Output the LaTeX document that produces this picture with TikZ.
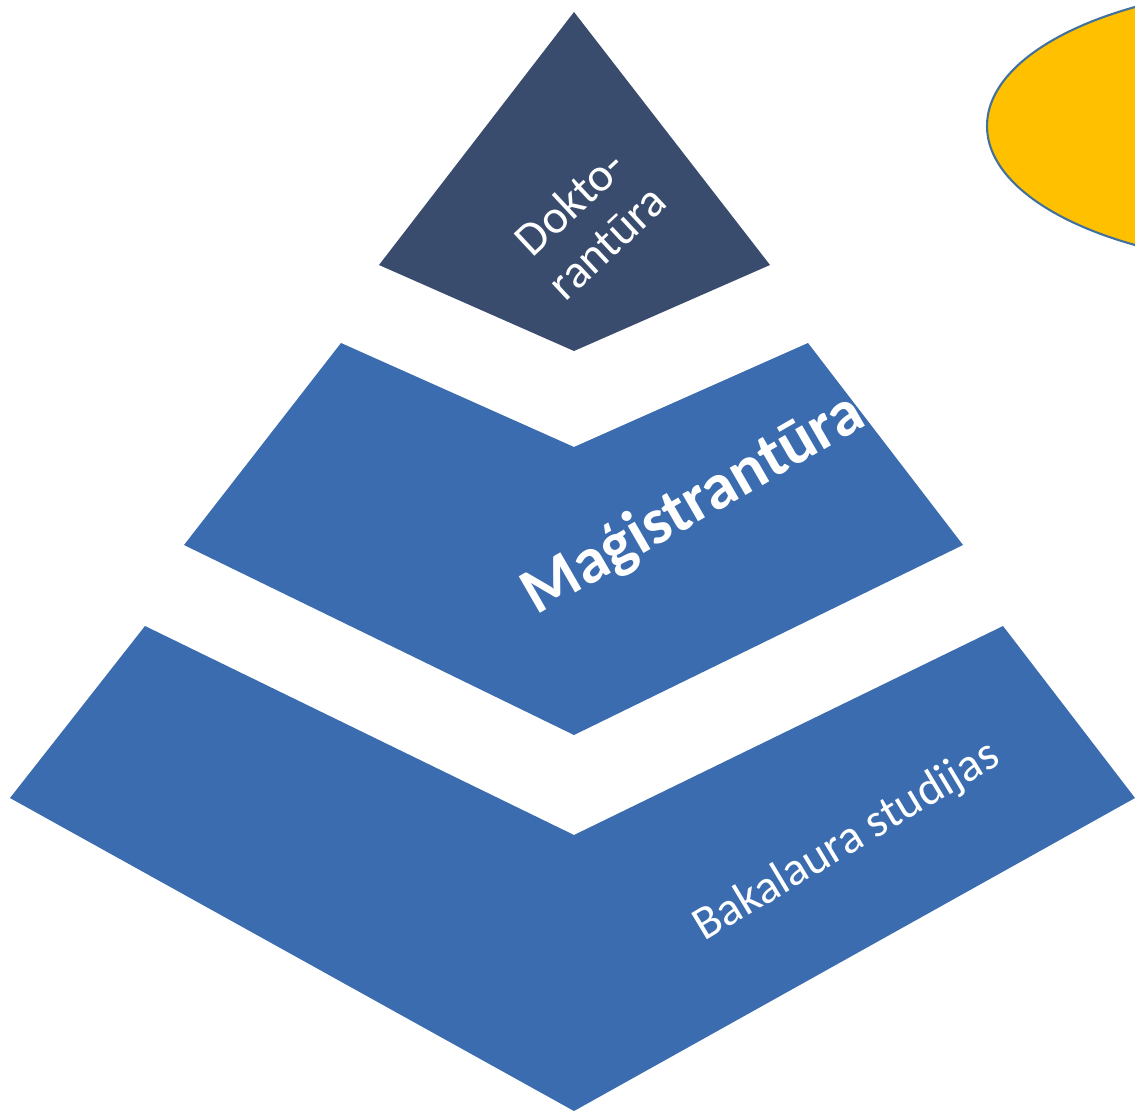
\documentclass[tikz,border=0pt]{standalone}
\usepackage{fontspec}
\setmainfont{Carlito}
\usepackage{tikz}
\definecolor{doktblue}{RGB}{58,76,110}
\definecolor{levelblue}{RGB}{59,108,175}
\definecolor{sunyellow}{RGB}{255,192,0}
\definecolor{sunedge}{RGB}{65,113,156}

\begin{document}
\begin{tikzpicture}[x=0.02cm,y=-0.02cm,
    level/.style={fill=levelblue, draw=none},
    lbl/.style={text=white, align=center, inner sep=0pt}]
   \useasboundingbox (0,0) rectangle (1135,1111);

   % top of the pyramid
   \fill[doktblue] (574,12) -- (770,265) -- (574,351) -- (379,265) -- cycle;
   \node[lbl, rotate=43, font=\fontsize{27}{31}\selectfont] (dokt) at (588,222) {Dokto-\\rantūra};

   % middle chevron
   \fill[level] (341,343) -- (574,447) -- (808,343) -- (963,545) -- (574,735) -- (184,545) -- cycle;
   \node[lbl, rotate=30, font=\fontsize{37}{40}\bfseries\selectfont] (mag) at (694,505) {Maģistrantūra};

   % bottom chevron
   \fill[level] (145,626) -- (574,835) -- (1003,626) -- (1135,798) -- (574,1111) -- (10,798) -- cycle;
   \node[lbl, rotate=31, font=\fontsize{27}{29}\selectfont] (bak) at (847,842) {Bakalaura studijas};

   % the sun, cut at the edge
   \begin{scope}
     \clip (0,0) rectangle (1135,1111);
     \draw[fill=sunyellow, draw=sunedge, line width=1.2pt] (1300,126) ellipse [x radius=313, y radius=140];
   \end{scope}
\end{tikzpicture}
\end{document}
